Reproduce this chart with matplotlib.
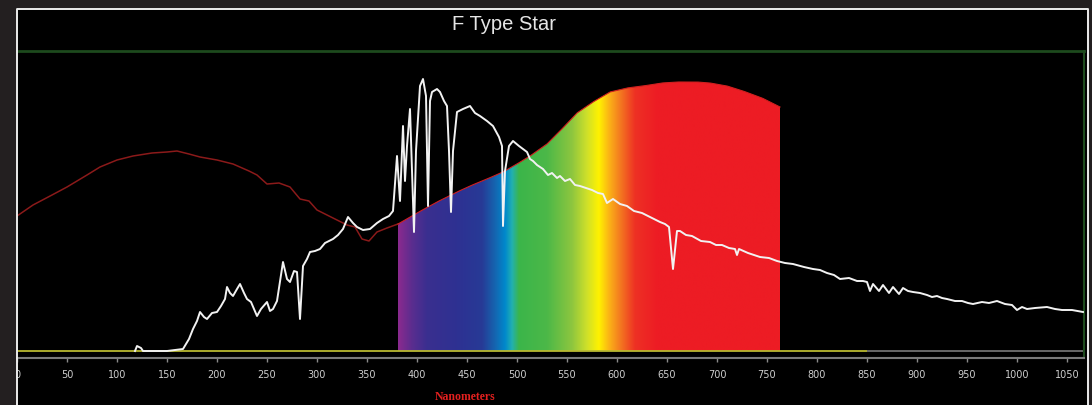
import numpy as np
from matplotlib import pyplot as plt
from matplotlib.patches import Rectangle, Polygon
from matplotlib.lines import Line2D
from matplotlib.colors import to_rgb

# ---------------- data ----------------
# red curve (top edge of the coloured band), nm / relative intensity
red_nm  = [0, 16, 35, 50, 70, 83, 100, 116, 135, 150, 160, 172, 183, 200, 216,
           232, 240, 250, 262, 273, 283, 292, 300, 316, 330, 338, 345, 352, 360,
           370, 381, 400, 420, 440, 453, 470, 486, 500, 513, 530, 543, 560, 576,
           593, 610, 626, 645, 660, 680, 693, 710, 726, 745, 763]
red_val = [135, 146, 156, 164, 176, 184, 191, 195, 198, 199, 200, 197, 194, 191, 187,
           180, 176, 167, 168, 164, 152, 150, 141, 133, 126, 124, 112, 110, 119,
           123, 127, 138, 149, 159, 165, 172, 179, 187, 195, 207, 220, 238, 249,
           259, 263, 265, 268, 269, 269, 268, 265, 260, 253, 244]

# white spectrum of the star
star_nm  = [118, 120, 124, 126, 150, 166, 172, 176, 180, 183, 187, 190, 195, 200,
            204, 208, 210, 213, 216, 220, 223, 227, 230, 234, 240, 244, 250, 253,
            256, 260, 266, 270, 273, 277, 280, 283, 286, 290, 293, 298, 303, 308,
            316, 321, 326, 331, 336, 340, 346, 353, 360, 366, 372, 376, 380, 383,
            386, 388, 390, 393, 395, 397, 399, 403, 406, 409, 411, 413, 415, 420,
            423, 427, 430, 432, 434, 436, 440, 446, 453, 458, 463, 470, 476, 482,
            485, 486, 488, 492, 496, 502, 510, 513, 516, 520, 526, 531, 535, 540,
            543, 548, 553, 558, 563, 569, 575, 581, 586, 590, 596, 603, 610, 617,
            625, 633, 643, 648, 652, 656, 660, 663, 669, 675, 684, 693, 699, 705,
            712, 718, 720, 722, 731, 743, 752, 760, 768, 776, 787, 796, 803, 810,
            817, 823, 832, 840, 846, 850, 853, 856, 862, 866, 872, 876, 882, 886,
            891, 896, 903, 910, 915, 920, 925, 930, 938, 945, 951, 956, 965, 972,
            980, 988, 995, 1000, 1005, 1010, 1018, 1030, 1038, 1045, 1055, 1066]
star_val = [0, 5, 3, 0, 0, 2, 12, 22, 30, 39, 34, 32, 38, 39,
            45, 52, 64, 58, 55, 62, 67, 58, 52, 49, 35, 42, 49, 40,
            42, 50, 89, 72, 69, 80, 79, 32, 85, 92, 99, 100, 102, 108,
            112, 116, 122, 134, 128, 124, 121, 122, 128, 132, 135, 140, 195, 150,
            225, 170, 205, 242, 180, 119, 200, 265, 272, 255, 145, 250, 259, 262,
            259, 250, 245, 200, 139, 200, 239, 242, 245, 238, 235, 230, 225, 214,
            205, 125, 180, 205, 210, 205, 199, 192, 190, 186, 182, 176, 178, 173,
            175, 170, 172, 166, 165, 163, 161, 158, 157, 148, 152, 147, 145, 140,
            138, 134, 129, 127, 124, 82, 120, 120, 116, 115, 110, 109, 106, 106,
            103, 102, 96, 102, 98, 94, 93, 90, 88, 87, 84, 82, 81, 78,
            76, 72, 73, 70, 70, 69, 60, 67, 60, 66, 58, 64, 57, 63,
            60, 59, 58, 56, 54, 55, 53, 52, 50, 50, 48, 47, 49, 48,
            50, 47, 46, 41, 44, 42, 43, 44, 42, 41, 41, 39]

ticks = list(range(0, 1051, 50))
band_lo, band_hi = 381, 763   # visible band drawn in colour

# colour stops of the visible band
stop_nm  = [381, 395, 410, 440, 465, 478, 488, 495, 502, 530, 555, 570, 582, 592,
            603, 618, 640, 763]
stop_col = ['#8b2a8e', '#5a2d8f', '#3a2f8f', '#2e3192', '#273a96', '#1565b0',
            '#0088cc', '#22b0b0', '#3bb54a', '#4cb848', '#8dc63f', '#cfe02a',
            '#fff200', '#fbb416', '#f47b20', '#ee3124', '#ed1c24', '#ed1c24']

# ---------------- figure ----------------
W, H = 1092, 406
fig = plt.figure(figsize=(W / 100, H / 100), dpi=100, facecolor='#231f20')

def fx(px):
    return px / W

def fy(py):
    return 1 - py / H

# black panel behind everything
fig.patches.append(Rectangle((fx(16), 0), fx(1088) - fx(16), fy(9), transform=fig.transFigure,
                             facecolor='black', edgecolor='none', zorder=-5))

ax = fig.add_axes([fx(17), fy(359), fx(1084) - fx(17), fy(52) - fy(359)])
ax.set_facecolor('black')

# coloured band clipped under the red curve
rn = np.array(red_nm, float)
rv = np.array(red_val, float)
grid = np.linspace(band_lo, band_hi, 800)
rgb = np.array([to_rgb(c) for c in stop_col])
grad = np.stack([np.interp(grid, stop_nm, rgb[:, k]) for k in range(3)], axis=-1)[None, :, :]
im = ax.imshow(grad, extent=[band_lo, band_hi, 0, 300], aspect='auto', zorder=1,
               interpolation='bilinear')
top = np.interp(grid, rn, rv)
verts = np.vstack([[band_lo, 0], np.column_stack([grid, top]), [band_hi, 0]])
clip = Polygon(verts, closed=True, transform=ax.transData, facecolor='none', edgecolor='none')
ax.add_patch(clip)
im.set_clip_path(clip)

ax.plot(rn[rn <= band_lo + 2], rv[rn <= band_lo + 2], color='#8b1a1a', lw=1.1, zorder=2)
ax.plot(grid, top, color='#d02020', lw=0.8, zorder=2)

# baseline
ax.hlines(0, 0, 850, color='#b8b830', lw=1.3, zorder=2)
ax.hlines(0, 850, 1067, color='#707070', lw=1.3, zorder=2)

# star spectrum
ax.plot(star_nm, star_val, color='#f2f2f2', lw=1.4, zorder=3)

ax.set_xlim(0, 1067)
ax.set_ylim(-7, 300)
ax.set_yticks([])
ax.set_xticks(ticks)
ax.set_xticklabels([str(t) for t in ticks])
ax.tick_params(axis='x', direction='out', length=3, width=1, color='#8a8a8a',
               labelsize=7, labelcolor='#cfcfcf', pad=5)

ax.spines['top'].set_color('#1d4a1d')
ax.spines['top'].set_linewidth(2)
ax.spines['right'].set_color('#1d4a1d')
ax.spines['right'].set_linewidth(1.5)
ax.spines['bottom'].set_color('#7a7a7a')
ax.spines['bottom'].set_linewidth(1.5)
ax.spines['left'].set_visible(False)

fig.text(fx(504), fy(25), 'F Type Star', ha='center', va='center', fontsize=14.5,
         color='#e6e6e6', family='Liberation Sans')
fig.text(fx(465), fy(397), 'Nanometers', ha='center', va='center', fontsize=8.5,
         color='#e3201f', family='Liberation Serif', fontweight='bold')

# outer frame (drawn above the axes so the "0" label is half hidden)
fig.patches.append(Rectangle((0, 0), fx(16), 1, transform=fig.transFigure,
                             facecolor='#231f20', edgecolor='none', zorder=4))
fig.lines.append(Line2D([fx(16.5), fx(16.5), fx(1087.5), fx(1087.5)],
                        [0, fy(9.5), fy(9.5), 0], transform=fig.transFigure,
                        color='#ececec', lw=1.4, zorder=5))

plt.savefig('out.png', dpi=100, facecolor=fig.get_facecolor())
